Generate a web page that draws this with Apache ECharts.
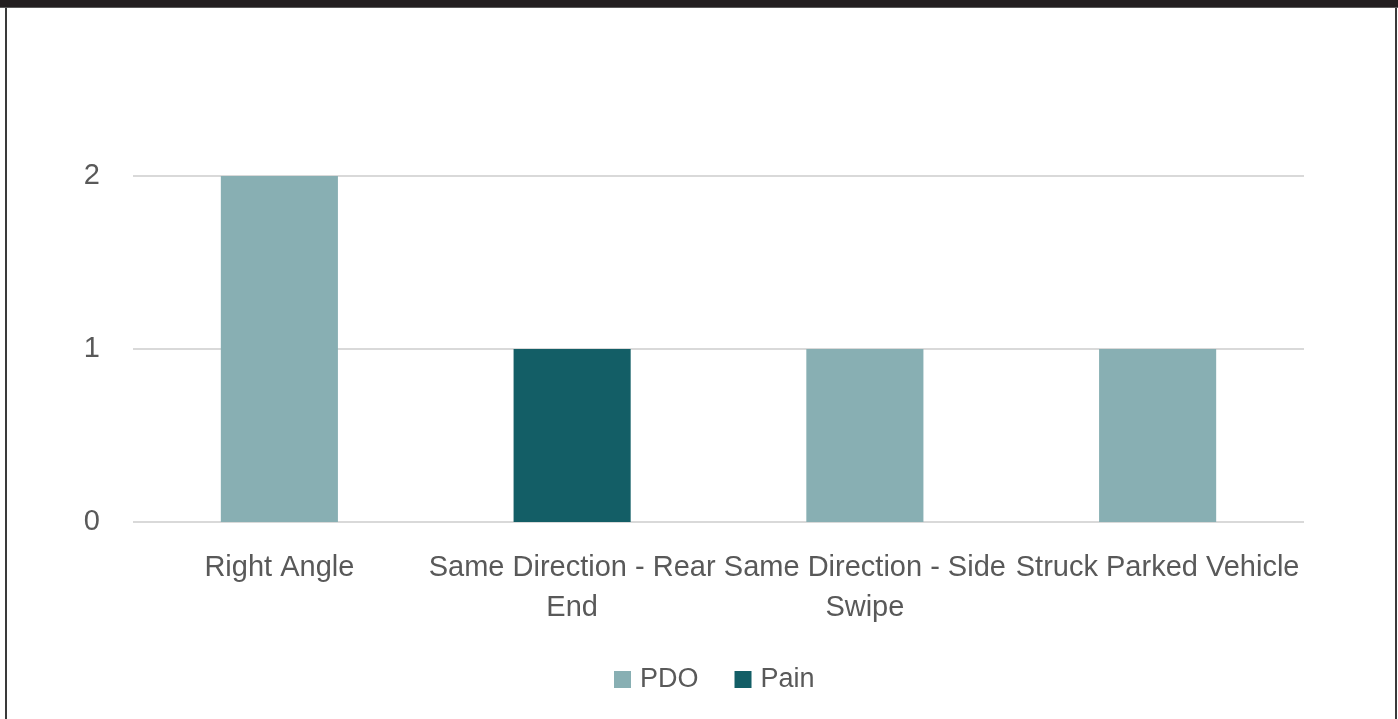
<!DOCTYPE html>
<html>
<head>
<meta charset="utf-8">
<script src="https://cdn.jsdelivr.net/npm/echarts@6/dist/echarts.min.js"></script>
<style>
html,body{margin:0;padding:0;background:#fff;}
#frame{position:absolute;left:0;top:0;width:1398px;height:719px;overflow:hidden;background:#fff;}
#topbar{position:absolute;left:0;top:0;width:1398px;height:7px;background:#231f20;border-bottom:1px solid #5a5a5a;}
#lb{position:absolute;left:5px;top:8px;width:2px;height:711px;background:#3a3a3a;}
#rb{position:absolute;left:1395px;top:8px;width:2px;height:711px;background:#3a3a3a;}
#chart{position:absolute;left:0;top:0;width:1398px;height:719px;}
</style>
</head>
<body>
<div id="frame">
<div id="chart"></div>
<div id="topbar"></div>
<div id="lb"></div>
<div id="rb"></div>
</div>
<script>
const categories = ['Right Angle', 'Same Direction - Rear\nEnd', 'Same Direction - Side\nSwipe', 'Struck Parked Vehicle'];
const pdoValues = [2, 0, 1, 1];
const painValues = [0, 1, 0, 0];
const yTicks = [0, 1, 2];

const chart = echarts.init(document.getElementById('chart'), null, {renderer: 'canvas'});
const font = "'Liberation Sans Narrow', 'Arial Narrow', 'Liberation Sans', sans-serif";
chart.setOption({
  animation: false,
  grid: {left: 133, right: 94, top: 176, bottom: 197, containLabel: false},
  legend: {
    bottom: 21, left: 609,
    itemWidth: 17, itemHeight: 17, itemGap: 36,
    icon: 'rect',
    textStyle: {color: '#595959', fontSize: 27, fontFamily: font, padding: [0, 0, 0, 4]},
    data: ['PDO', 'Pain']
  },
  xAxis: {
    type: 'category', data: categories,
    axisLine: {show: false}, axisTick: {show: false},
    axisLabel: {color: '#595959', fontSize: 29, fontFamily: font, margin: 26, lineHeight: 40, interval: 0}
  },
  yAxis: {
    type: 'value', min: yTicks[0], max: yTicks[yTicks.length - 1], interval: 1,
    axisLine: {show: false}, axisTick: {show: false},
    axisLabel: {color: '#595959', fontSize: 29, fontFamily: font, margin: 33},
    splitLine: {lineStyle: {color: '#d9d9d9', width: 2}}
  },
  series: [
    {name: 'PDO', type: 'bar', stack: 'a', data: pdoValues, barWidth: '40%', itemStyle: {color: '#88afb3'}},
    {name: 'Pain', type: 'bar', stack: 'a', data: painValues, barWidth: '40%', itemStyle: {color: '#135e66'}}
  ]
});
</script>
</body>
</html>
